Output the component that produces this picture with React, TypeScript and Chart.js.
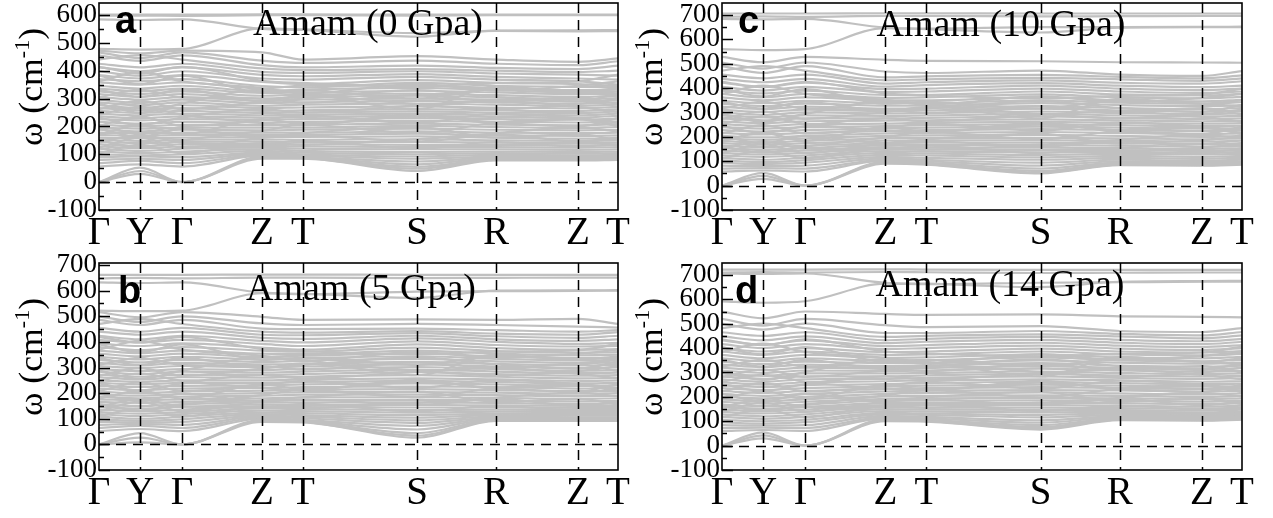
import React, { useEffect, useRef } from "react";
import { Chart, registerables } from "chart.js";
Chart.register(...registerables);

// High-symmetry path (cumulative distance) and labels
const kPath = [0, 0.41, 0.83, 1.63, 2.04, 3.18, 3.97, 4.79, 5.19];
const kLabels = ["Γ", "Y", "Γ", "Z", "T", "S", "R", "Z", "T"];
const yTickValues = [-100, 0, 100, 200, 300, 400, 500, 600, 700];

// Band frequencies (cm-1) at [Γ, Y, Γ, Z, T, S, R, Z, T]
const bandsA = [
  [601, 601, 601, 602, 602, 601, 601, 601, 601],
  [597, 598, 597, 599, 599, 598, 599, 599, 599],
  [584, 582, 584, 550, 546, 522, 544, 545, 546],
  [478, 476, 478, 552, 548, 535, 543, 541, 542],
  [472, 462, 472, 466, 440, 452, 440, 432, 444],
  [466, 445, 466, 436, 428, 436, 425, 420, 434],
  [455, 435, 455, 420, 412, 418, 410, 406, 418],
  [440, 456, 440, 408, 402, 406, 400, 395, 400],
  [425, 412, 425, 396, 392, 398, 390, 386, 382],
  [412, 398, 412, 385, 380, 388, 378, 372, 368],
  [398, 382, 398, 372, 368, 378, 368, 362, 350],
  [384, 372, 384, 360, 352, 366, 356, 352, 345],
  [370, 362, 370, 345, 340, 356, 346, 342, 340],
  [358, 350, 358, 336, 346, 346, 338, 330, 332],
  [346, 336, 346, 326, 332, 338, 330, 322, 325],
  [336, 326, 336, 320, 322, 328, 322, 316, 318],
  [326, 316, 326, 310, 314, 318, 312, 306, 310],
  [316, 306, 316, 300, 304, 310, 304, 298, 302],
  [305, 296, 305, 292, 296, 300, 296, 290, 294],
  [296, 284, 296, 284, 286, 292, 286, 282, 286],
  [286, 276, 286, 274, 278, 282, 278, 274, 278],
  [276, 266, 276, 266, 268, 272, 268, 265, 270],
  [266, 258, 266, 256, 258, 262, 258, 255, 262],
  [256, 248, 256, 248, 250, 254, 250, 248, 254],
  [246, 240, 246, 240, 242, 246, 242, 240, 246],
  [236, 230, 236, 232, 234, 238, 234, 232, 238],
  [226, 222, 226, 224, 226, 230, 226, 224, 228],
  [216, 210, 216, 214, 216, 220, 216, 214, 218],
  [206, 200, 206, 205, 206, 210, 206, 204, 208],
  [196, 192, 196, 196, 196, 202, 198, 195, 198],
  [188, 182, 188, 186, 188, 192, 188, 186, 188],
  [178, 176, 178, 178, 178, 182, 178, 176, 178],
  [170, 166, 170, 170, 170, 174, 168, 166, 168],
  [160, 158, 160, 162, 162, 164, 160, 156, 158],
  [152, 148, 152, 154, 152, 154, 150, 148, 150],
  [144, 140, 144, 146, 144, 144, 142, 140, 142],
  [136, 130, 136, 138, 136, 134, 134, 132, 134],
  [128, 122, 128, 130, 128, 126, 126, 124, 126],
  [120, 112, 120, 124, 120, 118, 118, 116, 118],
  [110, 104, 110, 118, 112, 108, 110, 108, 110],
  [100, 96, 100, 112, 106, 100, 104, 102, 104],
  [90, 92, 90, 106, 100, 92, 98, 96, 98],
  [80, 84, 80, 102, 96, 84, 92, 92, 94],
  [68, 76, 68, 98, 92, 74, 88, 88, 90],
  [56, 64, 56, 95, 90, 64, 85, 85, 86],
  [0, 52, 0, 92, 88, 55, 82, 82, 84],
  [0, 40, 0, 88, 86, 48, 80, 80, 82],
  [0, 30, 0, 84, 84, 40, 78, 78, 80],
  [332, 306, 332, 290, 300, 330, 305, 290, 318],
  [304, 332, 304, 300, 285, 312, 290, 305, 280],
  [262, 292, 262, 290, 310, 280, 262, 280, 300],
  [232, 205, 232, 262, 250, 276, 292, 270, 252],
  [202, 236, 202, 222, 240, 212, 246, 230, 214],
  [172, 204, 172, 226, 208, 236, 214, 200, 230],
  [150, 126, 150, 184, 206, 176, 214, 228, 204],
  [124, 160, 124, 160, 176, 198, 160, 172, 150],
  [104, 134, 104, 140, 134, 154, 172, 146, 160],
  [382, 352, 382, 322, 330, 300, 336, 322, 310],
  [362, 396, 362, 338, 318, 352, 330, 346, 362],
  [282, 250, 282, 332, 322, 262, 344, 324, 338],
  [242, 270, 242, 212, 204, 244, 212, 226, 200],
  [192, 162, 192, 160, 168, 146, 176, 196, 182],
  [142, 170, 142, 136, 150, 120, 144, 128, 136],
  [414, 390, 414, 364, 356, 344, 356, 362, 386],
];

const bandsB = [
  [662, 662, 662, 663, 663, 662, 662, 662, 662],
  [648, 650, 648, 651, 651, 649, 650, 651, 651],
  [632, 630, 632, 592, 588, 572, 600, 601, 602],
  [522, 520, 522, 590, 586, 596, 598, 599, 600],
  [516, 496, 516, 498, 486, 488, 486, 490, 470],
  [500, 478, 500, 472, 466, 470, 466, 460, 456],
  [486, 466, 486, 452, 450, 452, 446, 440, 446],
  [470, 490, 470, 440, 436, 442, 432, 428, 438],
  [455, 440, 455, 428, 426, 434, 422, 416, 424],
  [440, 428, 440, 416, 412, 424, 410, 404, 410],
  [424, 410, 424, 404, 398, 414, 400, 392, 396],
  [408, 398, 408, 392, 384, 402, 388, 382, 384],
  [394, 384, 394, 378, 370, 390, 376, 370, 372],
  [380, 368, 380, 366, 362, 378, 364, 358, 360],
  [366, 356, 366, 354, 352, 366, 354, 348, 350],
  [354, 344, 354, 342, 346, 354, 344, 338, 338],
  [342, 332, 342, 332, 336, 344, 334, 328, 330],
  [330, 320, 330, 322, 326, 334, 324, 318, 320],
  [318, 308, 318, 312, 314, 322, 314, 308, 310],
  [306, 298, 306, 300, 304, 312, 304, 298, 300],
  [294, 286, 294, 290, 294, 302, 294, 288, 290],
  [284, 274, 284, 280, 284, 292, 284, 278, 280],
  [272, 264, 272, 270, 274, 282, 274, 268, 270],
  [262, 254, 262, 260, 264, 270, 264, 258, 260],
  [250, 244, 250, 250, 254, 258, 254, 248, 250],
  [240, 234, 240, 240, 244, 248, 244, 238, 240],
  [228, 224, 228, 230, 234, 238, 234, 228, 230],
  [218, 212, 218, 220, 224, 226, 224, 218, 220],
  [206, 200, 206, 210, 214, 216, 212, 208, 210],
  [196, 190, 196, 200, 204, 204, 202, 198, 200],
  [186, 180, 186, 190, 194, 194, 192, 188, 190],
  [176, 172, 176, 180, 184, 184, 182, 178, 180],
  [166, 162, 166, 172, 174, 174, 172, 168, 170],
  [156, 150, 156, 164, 164, 164, 162, 158, 160],
  [146, 140, 146, 156, 154, 154, 152, 150, 150],
  [136, 130, 136, 148, 146, 144, 144, 142, 142],
  [126, 120, 126, 140, 138, 134, 136, 134, 134],
  [118, 110, 118, 132, 130, 124, 128, 126, 126],
  [108, 100, 108, 124, 122, 114, 120, 118, 118],
  [98, 92, 98, 118, 114, 104, 114, 112, 112],
  [88, 86, 88, 112, 108, 94, 108, 106, 106],
  [76, 80, 76, 108, 102, 84, 104, 102, 102],
  [64, 72, 64, 104, 96, 72, 100, 100, 100],
  [52, 60, 52, 100, 92, 58, 98, 98, 98],
  [0, 44, 0, 96, 90, 44, 96, 96, 96],
  [0, 26, 0, 92, 88, 34, 94, 94, 94],
  [0, 8, 0, 88, 86, 26, 92, 92, 92],
  [338, 310, 338, 300, 310, 340, 312, 296, 324],
  [310, 338, 310, 306, 292, 320, 298, 312, 286],
  [268, 298, 268, 296, 316, 288, 270, 286, 306],
  [238, 210, 238, 270, 258, 284, 298, 276, 258],
  [208, 242, 208, 230, 248, 220, 252, 236, 220],
  [178, 210, 178, 234, 216, 244, 220, 206, 236],
  [156, 132, 156, 192, 214, 184, 220, 234, 210],
  [130, 166, 130, 168, 184, 206, 166, 178, 156],
  [110, 140, 110, 148, 142, 162, 178, 152, 166],
  [390, 360, 390, 330, 338, 310, 344, 330, 318],
  [370, 404, 370, 346, 326, 360, 338, 354, 370],
  [288, 256, 288, 340, 330, 270, 350, 330, 344],
  [248, 276, 248, 220, 212, 252, 218, 232, 206],
  [198, 168, 198, 168, 176, 154, 182, 202, 188],
  [148, 176, 148, 144, 158, 128, 150, 134, 142],
  [420, 398, 420, 372, 364, 352, 362, 368, 392],
];

const bandsC = [
  [706, 706, 706, 707, 707, 706, 706, 706, 706],
  [692, 694, 692, 696, 696, 694, 695, 696, 696],
  [684, 682, 684, 648, 642, 628, 648, 650, 650],
  [560, 556, 560, 646, 644, 650, 650, 651, 652],
  [528, 506, 528, 516, 512, 510, 506, 505, 504],
  [505, 480, 505, 468, 462, 472, 455, 450, 470],
  [490, 462, 490, 444, 448, 454, 446, 440, 452],
  [472, 490, 472, 432, 436, 442, 436, 430, 440],
  [455, 440, 455, 418, 424, 432, 422, 418, 428],
  [438, 424, 438, 406, 412, 420, 410, 404, 410],
  [422, 404, 422, 396, 398, 410, 398, 392, 398],
  [405, 390, 405, 384, 386, 398, 386, 380, 386],
  [390, 378, 390, 372, 372, 386, 374, 370, 376],
  [376, 362, 376, 360, 362, 374, 362, 358, 364],
  [362, 350, 362, 350, 350, 362, 350, 346, 352],
  [348, 338, 348, 338, 338, 350, 340, 336, 342],
  [336, 326, 336, 328, 328, 338, 330, 326, 330],
  [324, 314, 324, 316, 318, 326, 318, 314, 318],
  [312, 302, 312, 306, 308, 316, 308, 304, 306],
  [300, 290, 300, 296, 298, 304, 298, 294, 296],
  [288, 280, 288, 286, 288, 294, 288, 284, 286],
  [276, 268, 276, 276, 278, 284, 278, 274, 276],
  [264, 256, 264, 266, 268, 272, 268, 264, 266],
  [252, 244, 252, 254, 258, 262, 258, 254, 256],
  [240, 234, 240, 244, 248, 252, 248, 244, 246],
  [228, 222, 228, 234, 238, 242, 238, 234, 236],
  [216, 210, 216, 224, 228, 232, 228, 224, 226],
  [204, 198, 204, 214, 216, 220, 216, 212, 214],
  [194, 188, 194, 204, 206, 208, 204, 200, 204],
  [184, 176, 184, 194, 196, 196, 194, 190, 194],
  [174, 168, 174, 184, 186, 186, 184, 180, 184],
  [164, 158, 164, 174, 176, 176, 174, 170, 174],
  [154, 148, 154, 166, 166, 166, 164, 160, 164],
  [144, 138, 144, 158, 156, 156, 154, 150, 154],
  [134, 128, 134, 150, 148, 146, 146, 142, 146],
  [124, 118, 124, 142, 140, 136, 138, 134, 138],
  [114, 106, 114, 134, 132, 126, 130, 128, 130],
  [104, 96, 104, 126, 124, 116, 122, 118, 122],
  [94, 88, 94, 118, 114, 106, 114, 110, 114],
  [82, 80, 82, 112, 106, 94, 106, 102, 106],
  [70, 72, 70, 106, 100, 82, 100, 96, 100],
  [58, 62, 58, 102, 94, 70, 94, 90, 94],
  [0, 52, 0, 98, 90, 60, 90, 86, 90],
  [0, 40, 0, 94, 88, 54, 86, 84, 88],
  [0, 28, 0, 90, 86, 50, 84, 82, 86],
  [344, 316, 344, 306, 316, 346, 318, 302, 330],
  [316, 344, 316, 312, 298, 326, 304, 318, 292],
  [274, 304, 274, 302, 322, 294, 276, 292, 312],
  [244, 216, 244, 276, 264, 290, 304, 282, 264],
  [214, 248, 214, 236, 254, 226, 258, 242, 226],
  [184, 216, 184, 240, 222, 250, 226, 212, 242],
  [160, 136, 160, 198, 220, 190, 226, 240, 216],
  [134, 170, 134, 174, 190, 212, 172, 184, 162],
  [112, 144, 112, 154, 148, 168, 184, 158, 172],
  [396, 366, 396, 336, 344, 316, 350, 336, 324],
  [376, 410, 376, 352, 332, 366, 344, 360, 376],
  [294, 262, 294, 346, 336, 276, 356, 336, 350],
  [254, 282, 254, 226, 218, 258, 224, 238, 212],
  [204, 174, 204, 174, 182, 160, 188, 208, 194],
  [152, 180, 152, 150, 164, 134, 156, 140, 148],
  [426, 404, 426, 378, 370, 358, 368, 374, 398],
];

const bandsD = [
  [722, 722, 722, 723, 722, 721, 721, 721, 721],
  [710, 712, 710, 712, 711, 708, 709, 710, 710],
  [706, 704, 706, 668, 664, 650, 672, 675, 676],
  [592, 586, 592, 664, 662, 668, 670, 672, 672],
  [550, 522, 550, 540, 536, 538, 530, 528, 526],
  [520, 492, 520, 494, 486, 490, 470, 466, 482],
  [500, 476, 500, 462, 462, 470, 458, 452, 466],
  [482, 500, 482, 446, 450, 456, 448, 440, 452],
  [465, 450, 465, 432, 438, 446, 434, 428, 438],
  [448, 432, 448, 420, 426, 434, 422, 416, 426],
  [432, 414, 432, 408, 412, 422, 410, 404, 412],
  [416, 400, 416, 396, 400, 410, 398, 392, 400],
  [400, 386, 400, 384, 386, 398, 386, 382, 388],
  [386, 372, 386, 372, 374, 386, 374, 370, 376],
  [372, 358, 372, 360, 362, 374, 362, 358, 364],
  [358, 346, 358, 348, 350, 362, 350, 346, 352],
  [344, 334, 344, 338, 338, 350, 340, 336, 340],
  [332, 322, 332, 326, 328, 338, 328, 324, 328],
  [320, 310, 320, 316, 318, 326, 318, 314, 318],
  [308, 298, 308, 306, 308, 316, 308, 304, 306],
  [296, 286, 296, 296, 298, 304, 298, 294, 296],
  [284, 274, 284, 284, 288, 294, 288, 284, 286],
  [272, 262, 272, 274, 278, 284, 278, 274, 276],
  [260, 250, 260, 264, 268, 272, 268, 262, 264],
  [248, 240, 248, 252, 256, 262, 256, 252, 254],
  [236, 228, 236, 242, 246, 250, 246, 242, 244],
  [224, 216, 224, 232, 236, 240, 236, 232, 234],
  [212, 204, 212, 222, 226, 228, 226, 222, 224],
  [200, 194, 200, 212, 216, 218, 214, 210, 214],
  [190, 182, 190, 202, 204, 206, 204, 200, 204],
  [180, 172, 180, 192, 194, 196, 194, 190, 194],
  [168, 162, 168, 184, 184, 186, 184, 180, 184],
  [158, 152, 158, 174, 174, 176, 174, 170, 174],
  [148, 142, 148, 166, 166, 166, 164, 160, 164],
  [138, 132, 138, 158, 156, 156, 154, 152, 156],
  [128, 120, 128, 150, 148, 146, 146, 144, 148],
  [118, 110, 118, 142, 140, 136, 138, 136, 140],
  [106, 100, 106, 134, 132, 126, 132, 130, 134],
  [96, 90, 96, 128, 126, 116, 126, 124, 128],
  [84, 82, 84, 122, 118, 104, 120, 118, 122],
  [72, 74, 72, 116, 112, 94, 116, 114, 118],
  [60, 64, 60, 112, 106, 84, 112, 110, 114],
  [0, 54, 0, 108, 102, 76, 108, 106, 110],
  [0, 42, 0, 104, 100, 70, 106, 104, 108],
  [0, 30, 0, 100, 98, 66, 104, 102, 106],
  [352, 324, 352, 314, 324, 354, 326, 310, 338],
  [324, 352, 324, 320, 306, 334, 312, 326, 300],
  [282, 312, 282, 310, 330, 302, 284, 300, 320],
  [252, 224, 252, 284, 272, 298, 312, 290, 272],
  [222, 256, 222, 244, 262, 234, 266, 250, 234],
  [192, 224, 192, 248, 230, 258, 234, 220, 250],
  [168, 142, 168, 206, 228, 198, 234, 248, 224],
  [140, 176, 140, 182, 198, 220, 180, 192, 170],
  [116, 150, 116, 162, 156, 176, 192, 166, 180],
  [404, 374, 404, 344, 352, 324, 358, 344, 332],
  [384, 418, 384, 360, 340, 374, 352, 368, 384],
  [302, 270, 302, 354, 344, 284, 364, 344, 358],
  [262, 290, 262, 234, 226, 266, 232, 246, 220],
  [212, 182, 212, 182, 190, 168, 196, 216, 202],
  [160, 188, 160, 158, 172, 142, 164, 148, 156],
  [436, 412, 436, 386, 378, 366, 376, 382, 406],
];

const W = 1273;
const H = 518;

type Panel = {
  letter: string;
  title: string;
  bands: number[][];
  yMax: number;
  area: { l: number; t: number; r: number; b: number };
  letterPos: [number, number];
  titlePos: [number, number];
  yTitlePos: [number, number];
};

const PANELS: Panel[] = [
  { letter: "a", title: "Amam (0 Gpa)", bands: bandsA, yMax: 643, area: { l: 99, t: 3, r: 618, b: 210 }, letterPos: [115, 33], titlePos: [368, 35], yTitlePos: [42, 87] },
  { letter: "b", title: "Amam (5 Gpa)", bands: bandsB, yMax: 708, area: { l: 99, t: 263, r: 618, b: 470 }, letterPos: [118, 303], titlePos: [361, 300], yTitlePos: [42, 357] },
  { letter: "c", title: "Amam (10 Gpa)", bands: bandsC, yMax: 749, area: { l: 722, t: 3, r: 1242, b: 210 }, letterPos: [738, 33], titlePos: [1001, 36], yTitlePos: [662, 87] },
  { letter: "d", title: "Amam (14 Gpa)", bands: bandsD, yMax: 749, area: { l: 722, t: 263, r: 1242, b: 470 }, letterPos: [735, 303], titlePos: [1000, 296], yTitlePos: [662, 357] },
];

const SERIF = '"Liberation Serif", "Times New Roman", serif';
const Y_AXIS_W = 70;
const X_AXIS_H = 45;

function makeChart(canvas: HTMLCanvasElement, p: Panel) {
  const overlay = {
    id: "overlay" + p.letter,
    afterDraw(chart: any) {
      const { ctx, chartArea: ca } = chart;
      const xs = chart.scales.x;
      const ys = chart.scales.y;
      ctx.save();
      ctx.strokeStyle = "#000";
      ctx.lineWidth = 1.5;
      ctx.setLineDash([10, 7]);
      kPath.slice(1, -1).forEach((k) => {
        const px = Math.round(xs.getPixelForValue(k)) + 0.5;
        ctx.beginPath();
        ctx.moveTo(px, ca.top);
        ctx.lineTo(px, ca.bottom);
        ctx.stroke();
      });
      const py0 = Math.round(ys.getPixelForValue(0)) + 0.5;
      ctx.beginPath();
      ctx.moveTo(ca.left, py0);
      ctx.lineTo(ca.right, py0);
      ctx.stroke();
      ctx.setLineDash([]);
      for (let v = -100; v <= p.yMax; v += 50) {
        const py = Math.round(ys.getPixelForValue(v)) + 0.5;
        const len = v % 100 === 0 ? 11 : 5;
        ctx.beginPath();
        ctx.moveTo(ca.left, py);
        ctx.lineTo(ca.left + len, py);
        ctx.stroke();
      }
      ctx.lineWidth = 1.6;
      ctx.strokeRect(ca.left, ca.top, ca.right - ca.left, ca.bottom - ca.top);
      ctx.fillStyle = "#000";
      ctx.textAlign = "left";
      ctx.textBaseline = "alphabetic";
      ctx.font = 'bold 38px "Liberation Sans", Arial, sans-serif';
      ctx.fillText(p.letter, p.letterPos[0], p.letterPos[1]);
      ctx.textAlign = "center";
      ctx.font = "38px " + SERIF;
      ctx.fillText(p.title, p.titlePos[0], p.titlePos[1]);
      ctx.translate(p.yTitlePos[0], p.yTitlePos[1]);
      ctx.rotate(-Math.PI / 2);
      ctx.scale(1.05, 1);
      ctx.textAlign = "left";
      const mainTxt = "ω (cm";
      const supTxt = "-1";
      const endTxt = ")";
      ctx.font = "34px " + SERIF;
      const w1 = ctx.measureText(mainTxt).width;
      const w3 = ctx.measureText(endTxt).width;
      ctx.font = "21px " + SERIF;
      const w2 = ctx.measureText(supTxt).width;
      const x0 = -(w1 + w2 + w3) / 2;
      ctx.font = "34px " + SERIF;
      ctx.fillText(mainTxt, x0, 0);
      ctx.fillText(endTxt, x0 + w1 + w2, 0);
      ctx.font = "21px " + SERIF;
      ctx.fillText(supTxt, x0 + w1, -13);
      ctx.restore();
    },
  };

  return new Chart(canvas, {
    type: "line",
    data: {
      datasets: p.bands.map((b) => ({
        data: kPath.map((x, i) => ({ x, y: b[i] })),
        borderColor: "rgb(192,192,192)",
        borderWidth: 2.2,
        pointRadius: 0,
        fill: false,
        cubicInterpolationMode: "monotone" as const,
      })),
    },
    options: {
      animation: false,
      responsive: false,
      devicePixelRatio: 1,
      events: [],
      layout: {
        padding: {
          left: p.area.l - Y_AXIS_W,
          right: W - p.area.r,
          top: p.area.t,
          bottom: H - p.area.b - X_AXIS_H,
        },
      },
      plugins: { legend: { display: false }, tooltip: { enabled: false } },
      scales: {
        x: {
          type: "linear",
          min: kPath[0],
          max: kPath[kPath.length - 1],
          grid: { display: false, drawTicks: false },
          border: { display: false },
          afterBuildTicks: (s: any) => {
            s.ticks = kPath.map((v) => ({ value: v }));
          },
          ticks: {
            autoSkip: false,
            maxRotation: 0,
            padding: 0,
            color: "#000",
            font: { family: SERIF, size: 39 },
            callback: (_v: any, i: number) => kLabels[i],
          },
          afterFit: (s: any) => {
            s.height = X_AXIS_H;
            s.paddingLeft = 0;
            s.paddingRight = 0;
          },
        },
        y: {
          type: "linear",
          min: -100,
          max: p.yMax,
          grid: { display: false, drawTicks: false },
          border: { display: false },
          afterBuildTicks: (s: any) => {
            s.ticks = yTickValues.filter((v) => v <= p.yMax).map((v) => ({ value: v }));
          },
          ticks: {
            autoSkip: false,
            padding: 2,
            color: "#000",
            font: { family: SERIF, size: 27 },
            callback: (v: any) => String(v),
          },
          afterFit: (s: any) => {
            s.width = Y_AXIS_W;
            s.paddingTop = 0;
            s.paddingBottom = 0;
          },
        },
      },
    },
    plugins: [overlay],
  } as any);
}

export default function App() {
  const refs = useRef<(HTMLCanvasElement | null)[]>([]);
  useEffect(() => {
    document.body.style.margin = "0";
    const charts = PANELS.map((p, i) => makeChart(refs.current[i] as HTMLCanvasElement, p));
    return () => charts.forEach((c) => c.destroy());
  }, []);
  return (
    <div style={{ position: "relative", width: W, height: H, background: "#fff" }}>
      {PANELS.map((p, i) => (
        <canvas
          key={p.letter}
          ref={(el) => {
            refs.current[i] = el;
          }}
          width={W}
          height={H}
          style={{ position: "absolute", left: 0, top: 0, width: W, height: H }}
        />
      ))}
    </div>
  );
}
